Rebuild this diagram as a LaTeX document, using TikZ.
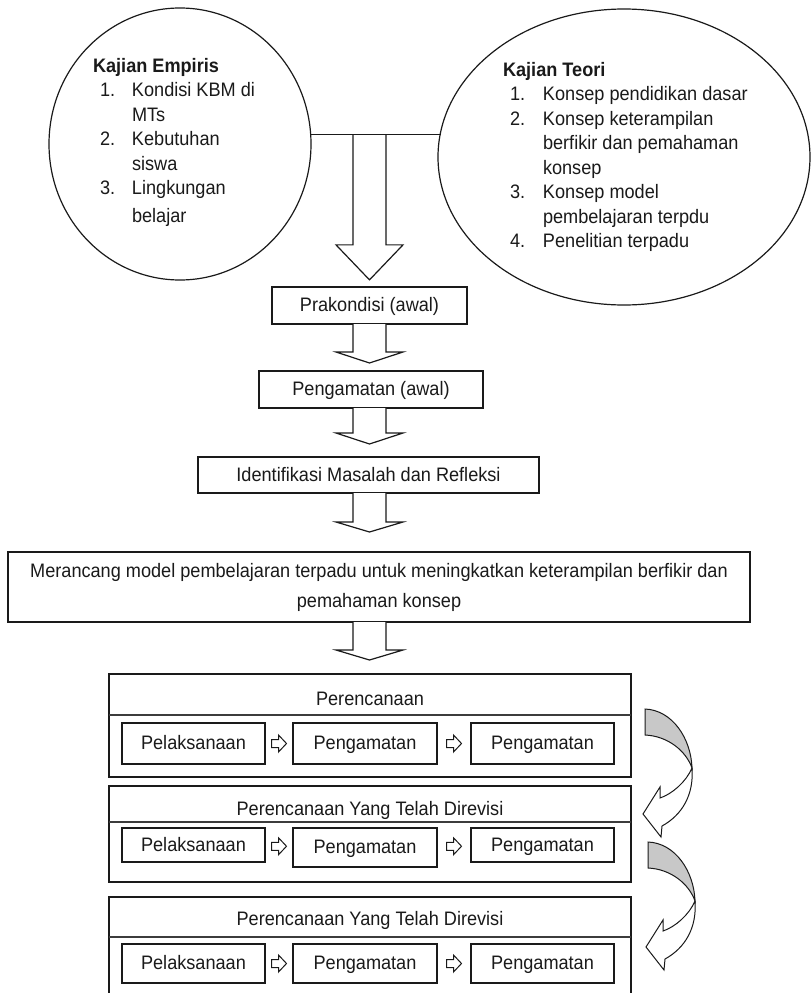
\documentclass[tikz,border=0pt]{standalone}
\usepackage{fontspec}
\setmainfont{Liberation Sans}[FakeStretch=0.93]
\usetikzlibrary{shapes.geometric,calc}

\definecolor{ink}{HTML}{1A1A1A}
\definecolor{shade}{HTML}{C8C8C8}

\newcommand\diagfont{\fontsize{19.5pt}{24.5pt}\selectfont}

% hollow block arrow pointing down: start point, shaft length, head length
\newcommand\blockdown[3]{%
  \draw[blockarrow] ($(#1)+(-16.5,0)$) -- ($(#1)+(-16.5,#2)$) -- ($(#1)+(-33.5,#2)$)
    -- ($(#1)+(0,#2+#3)$) -- ($(#1)+(33.5,#2)$) -- ($(#1)+(16.5,#2)$) -- ($(#1)+(16.5,0)$);
}
% small hollow block arrow pointing right, around a centre point
\newcommand\blockright[1]{%
  \draw[smallarrow] ($(#1)+(-7.5,-4)$) -- ($(#1)+(-0.5,-4)$) -- ($(#1)+(-0.5,-8.5)$)
    -- ($(#1)+(7.5,0)$) -- ($(#1)+(-0.5,8.5)$) -- ($(#1)+(-0.5,4)$) -- ($(#1)+(-7.5,4)$) -- cycle;
}
% curved return arrow: shaded back face on top, white front face with head
\newcommand\twistarrow{%
  \filldraw[twistback] (645,709) .. controls (672,710) and (691,738) .. (692,768)
    .. controls (686,751) and (668,736) .. (645,735) -- cycle;
  \filldraw[twistfront] (692,768) .. controls (694,795) and (682,815) .. (662,826)
    -- (661,837) -- (643,814) -- (660,787) -- (660,798)
    .. controls (672,794) and (686,782) .. (692,768) -- cycle;
}

\begin{document}
\begin{tikzpicture}[x=1pt,y=-1pt,line join=miter,
  bubble/.style={ellipse,draw=ink,line width=1.2pt,inner sep=0pt,outer sep=0pt},
  listtext/.style={inner sep=0pt,outer sep=0pt,text=ink,font=\diagfont,anchor=base west},
  plainbox/.style={draw=ink,line width=1.3pt,fill=white,inner sep=0pt,outer sep=0pt,
    text=ink,font=\diagfont},
  box/.style={plainbox,text height=14pt,text depth=2pt},
  frame/.style={draw=ink,line width=1.3pt,inner sep=0pt,outer sep=0pt},
  heading/.style={inner sep=0pt,text=ink,font=\diagfont,anchor=base},
  divider/.style={draw=ink!85,line width=1.3pt},
  blockarrow/.style={draw=ink,line width=1.2pt,fill=white},
  smallarrow/.style={draw=ink,line width=1pt,fill=white},
  link/.style={draw=ink,line width=1.2pt},
  twistback/.style={draw=ink,line width=1pt,fill=shade},
  twistfront/.style={draw=ink,line width=1pt,fill=white}]

\clip (0,0) rectangle (811,993);
\fill[white] (0,0) rectangle (811,993);

% ---------- sources ----------
\node[bubble,minimum width=262pt,minimum height=272pt] (empiris) at (180,144) {};
\node[listtext] (empirisText) at (93,72) {%
  \begin{tabular}[t]{@{\hspace{7pt}}p{32pt}@{}l@{}}
  \multicolumn{2}{@{}l@{}}{\textbf{Kajian Empiris}}\\
  1. & Kondisi KBM di\\
     & MTs\\
  2. & Kebutuhan\\
     & siswa\\
  3. & Lingkungan\\[3.5pt]
     & belajar
  \end{tabular}};

\node[bubble,minimum width=372pt,minimum height=296pt] (teori) at (624,157) {};
\node[listtext] (teoriText) at (503,76) {%
  \begin{tabular}[t]{@{\hspace{7pt}}p{33pt}@{}l@{}}
  \multicolumn{2}{@{}l@{}}{\textbf{Kajian Teori}}\\
  1. & Konsep pendidikan dasar\\
  2. & Konsep keterampilan\\
     & berfikir dan pemahaman\\
     & konsep\\
  3. & Konsep model\\
     & pembelajaran terpdu\\
  4. & Penelitian terpadu
  \end{tabular}};

\coordinate (axis) at (369.5,0);
\coordinate (hl) at (empiris.4.8);
\coordinate (hr) at (teori.172.5);
\coordinate (bigtop) at (axis |- hl);

% ---------- main column ----------
\node[box,minimum width=195pt,minimum height=37pt] (prakondisi) at (369.5,305.5) {Prakondisi (awal)};
\node[box,minimum width=224pt,minimum height=37pt] (pengawal) at (371,389.5) {Pengamatan (awal)};
\node[box,minimum width=341pt,minimum height=36pt] (identifikasi) at (368.5,475) {Identifikasi Masalah dan Refleksi};
\node[plainbox,minimum width=742pt,minimum height=70pt,align=center,
      font=\fontsize{19.5pt}{30pt}\selectfont] (merancang) at (379,587)
  {Merancang model pembelajaran terpadu untuk meningkatkan keterampilan berfikir dan\\
   pemahaman konsep};

\blockdown{bigtop}{110}{35}
\draw[link] (hl) -- (hl -| hr);

\coordinate (a1) at (prakondisi.south -| axis);
\coordinate (a2) at (pengawal.south -| axis);
\coordinate (a3) at (identifikasi.south -| axis);
\coordinate (a4) at (merancang.south -| axis);
\blockdown{a1}{28}{11}
\blockdown{a2}{25}{11}
\blockdown{a3}{29}{10}
\blockdown{a4}{28}{10}

% ---------- cycles ----------
\node[frame,minimum width=522pt,minimum height=103pt] (siklus1) at (370,725.5) {};
\node[frame,minimum width=522pt,minimum height=96pt] (siklus2) at (370,834) {};
\node[frame,minimum width=522pt,minimum height=113pt] (siklus3) at (370,953.5) {};
\draw[divider] ($(siklus1.north west)+(0,41)$) -- ($(siklus1.north east)+(0,41)$);
\draw[divider] ($(siklus2.north west)+(0,36)$) -- ($(siklus2.north east)+(0,36)$);
\draw[divider] ($(siklus3.north west)+(0,40)$) -- ($(siklus3.north east)+(0,40)$);

\node[heading] (plan1) at (370,705) {Perencanaan};
\node[heading] (plan2) at (370,815) {Perencanaan Yang Telah Direvisi};
\node[heading] (plan3) at (370,925) {Perencanaan Yang Telah Direvisi};

\node[box,minimum width=143pt,minimum height=41pt] (lak1) at (193.5,743.5) {Pelaksanaan};
\node[box,minimum width=144pt,minimum height=41pt] (amat1) at (365,743.5) {Pengamatan};
\node[box,minimum width=143pt,minimum height=41pt] (amatb1) at (542.5,743.5) {Pengamatan};

\node[box,minimum width=143pt,minimum height=34pt] (lak2) at (193.5,845) {Pelaksanaan};
\node[box,minimum width=144pt,minimum height=39pt] (amat2) at (365,847.5) {Pengamatan};
\node[box,minimum width=143pt,minimum height=34pt] (amatb2) at (542.5,845) {Pengamatan};

\node[box,minimum width=143pt,minimum height=39pt] (lak3) at (193.5,963.5) {Pelaksanaan};
\node[box,minimum width=144pt,minimum height=39pt] (amat3) at (365,963.5) {Pengamatan};
\node[box,minimum width=143pt,minimum height=39pt] (amatb3) at (542.5,963.5) {Pengamatan};

\foreach \r in {1,2,3}{
  \coordinate (ma\r) at ($(lak\r.east)!0.5!(amat\r.west)$);
  \coordinate (mb\r) at ($(amat\r.east)!0.5!(amatb\r.west)$);
  \blockright{ma\r}
  \blockright{mb\r}
}

% curved arrows between cycles
\twistarrow
\begin{scope}[shift={(3,133)}]
  \twistarrow
\end{scope}

\end{tikzpicture}
\end{document}
